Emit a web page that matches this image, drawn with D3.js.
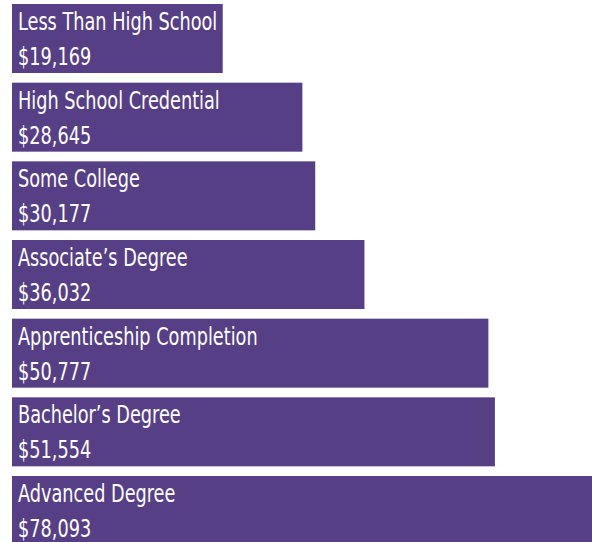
<!DOCTYPE html>
<html>
<head>
<meta charset="utf-8">
<script src="https://cdn.jsdelivr.net/npm/d3@7"></script>
<style>
	html, body { margin: 0; padding: 0; background: #fff; }
	svg { display: block; }
	.bar__label { fill: #fff; font-family: 'DejaVu Sans Condensed', 'DejaVu Sans', sans-serif; font-size: 24px; }
</style>
</head>
<body>
<div id="chart"></div>
<script>
const categories = [
	'Less Than High School',
	'High School Credential',
	'Some College',
	'Associate\u2019s Degree',
	'Apprenticeship Completion',
	'Bachelor\u2019s Degree',
	'Advanced Degree'
]
const earnings = [19169, 28645, 30177, 36032, 50777, 51554, 78093]

const WIDTH = 592
const HEIGHT = 542
const BAR_COLOR = '#563f85'
const TEXT_SQUEEZE = 0.82 // no narrow face installed, so squeeze the condensed one

const fmt = d3.format('$,')

const data = categories.map((name, i) => ({ name, value: earnings[i] }))

const svg = d3.select('#chart').append('svg')
	.attr('width', WIDTH)
	.attr('height', HEIGHT)

// bars keep a minimum length for the labels, so the scale starts below zero
const scale = {}
scale.x = d3.scaleLinear().domain([-5900, d3.max(earnings)]).range([12, 718])
scale.y = d3.scaleBand().domain(categories).range([4, 545]).paddingInner(0.123)

const x0 = scale.x.domain()[0]

const bar = svg.selectAll('.bar')
	.data(data)
	.enter().append('g')
	.attr('class', 'bar')
	.attr('transform', d => `translate(0, ${scale.y(d.name)})`)

bar.append('rect')
	.attr('x', scale.x(x0))
	.attr('width', d => scale.x(d.value) - scale.x(x0))
	.attr('height', scale.y.bandwidth())
	.attr('fill', BAR_COLOR)

const label = bar.append('g')
	.attr('transform', `translate(18, 0) scale(${TEXT_SQUEEZE}, 1)`)

label.append('text')
	.attr('class', 'bar__label')
	.attr('y', 26)
	.text(d => d.name)

label.append('text')
	.attr('class', 'bar__label')
	.attr('y', 61)
	.text(d => fmt(d.value))
</script>
</body>
</html>
